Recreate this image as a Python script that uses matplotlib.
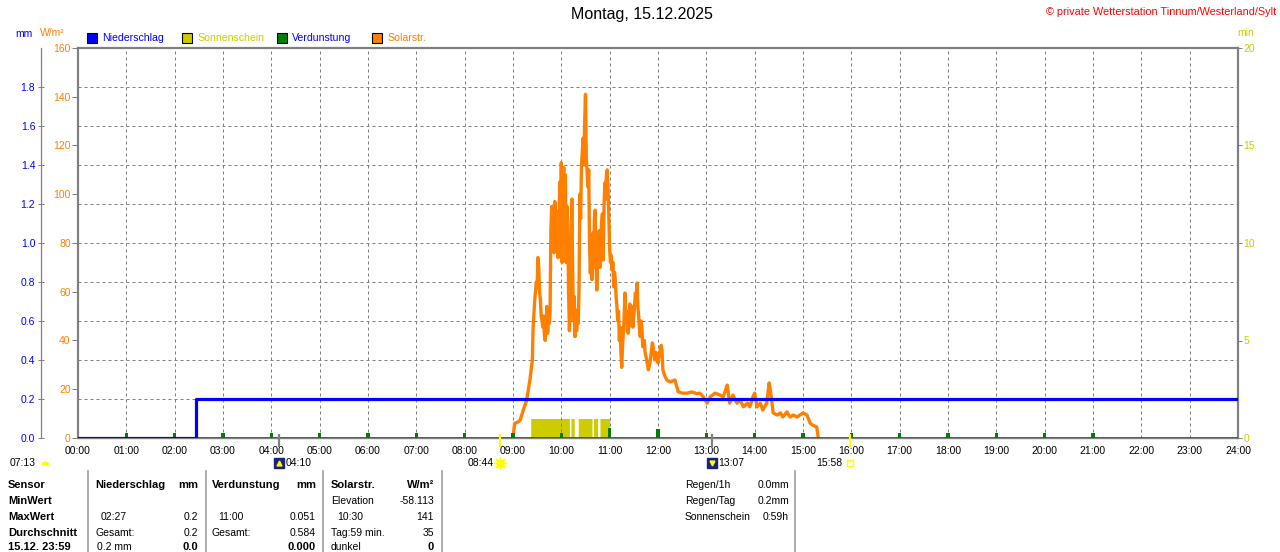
import numpy as np
import matplotlib
matplotlib.use('Agg')
import matplotlib.pyplot as plt
from matplotlib.patches import Rectangle

plt.rcParams['font.family'] = ['Liberation Sans', 'DejaVu Sans']

# --- data ---
# solar radiation (W/m2), minute of day
solar_minutes = [540, 542, 546, 549, 552, 557, 561, 564, 565, 567,
                 569, 570, 571, 572, 573, 574, 575, 576, 577, 578,
                 579, 580, 581, 582, 583, 584, 585, 586, 587, 588,
                 589, 590, 591, 592, 593, 594, 595, 596, 597, 598,
                 599, 600, 601, 602, 603, 604, 605, 606, 607, 608,
                 609, 610, 611, 612, 613, 614, 615, 616, 617, 618,
                 619, 620, 621, 622, 623, 624, 625, 626, 627, 628,
                 629, 630, 631, 632, 633, 634, 635, 636, 637, 638,
                 639, 640, 641, 642, 643, 644, 645, 646, 647, 648,
                 649, 650, 651, 652, 653, 654, 655, 656, 657, 658,
                 659, 660, 661, 662, 663, 664, 665, 666, 667, 668,
                 669, 670, 671, 672, 673, 674, 675, 676, 677, 678,
                 679, 680, 681, 682, 683, 684, 685, 686, 687, 688,
                 689, 690, 691, 692, 693, 694, 695, 696, 697, 698,
                 699, 700, 701, 703, 704, 706, 708, 710, 712, 713,
                 714, 716, 718, 719, 720, 722, 724, 725, 726, 729,
                 731, 735, 741, 745, 750, 756, 762, 768, 772, 776,
                 781, 785, 791, 797, 801, 806, 807, 809, 813, 818,
                 822, 826, 831, 834, 838, 840, 843, 847, 850, 855,
                 858, 860, 863, 868, 872, 875, 880, 884, 888, 893,
                 896, 900, 905, 909, 912, 917, 919]
solar_wm2 = [0, 6, 6.5, 7.4, 10.7, 15.6, 23.8, 32, 45.5, 56.6,
             64, 62, 74, 70, 60, 56.6, 50, 48, 45.5, 50,
             42, 40, 46, 54, 43, 50, 47, 51, 85, 95,
             82, 90, 76, 97, 89, 80, 93, 74, 88, 105,
             84, 113, 72, 100, 111, 80, 108, 72, 95, 87,
             60, 44, 55, 70, 98, 70, 48, 58, 41.6, 52.5,
             44, 50, 47, 62, 100, 90, 112, 117, 123, 112,
             130, 141, 115, 108.6, 103, 110, 80, 67.6, 75, 65,
             84, 70, 90, 93.5, 75, 60.7, 72, 78, 85, 70,
             80, 88, 92, 73, 95, 104.6, 98, 108, 110, 103,
             90, 77, 72, 75, 69, 72, 62, 68, 65, 58,
             54, 48, 52, 40, 45.5, 35, 29, 38, 43, 50,
             59.5, 48, 52, 44, 43, 49, 55, 46, 54, 51,
             45.5, 50, 55, 59.5, 56, 63.6, 54, 50, 45, 41.6,
             48, 45.5, 37.5, 40, 35, 32, 28, 30.8, 36, 39,
             37.5, 32, 35, 33, 30.8, 35, 38, 36, 28, 25,
             23.8, 23, 23.8, 19, 18.4, 18.4, 18.9, 18.2, 18.4, 17,
             14.3, 17, 18.4, 17.6, 17, 21.7, 19, 14.3, 17.6, 14.3,
             15.6, 12.8, 14.3, 12.8, 17, 18.4, 12.8, 14.3, 11.5, 14.3,
             22.6, 18.4, 10.3, 9.4, 10.3, 8.6, 10.7, 8.6, 9.4, 8.6,
             9.4, 10.3, 9.4, 6, 5.3, 4.5, 0]

# cumulative rain (mm)
rain_hours = [0, 2 + 27 / 60, 24]
rain_mm = [0.0, 0.2, 0.2]

# hourly evaporation (mm)
evap_hours = list(range(1, 22))
evap_mm = [0.024, 0.025, 0.025, 0.025, 0.026, 0.025, 0.025, 0.025, 0.026, 0.026,
           0.051, 0.048, 0.025, 0.026, 0.026, 0.026, 0.025, 0.026, 0.026, 0.026, 0.026]

# sunshine periods (minute of day, start/end)
sun_periods = [(562, 610), (612, 616), (621, 638), (640, 645), (648, 660)]

hour_labels = ['%02d:00' % h for h in range(25)]

sunrise, sunset = '08:44', '15:58'
moonrise, moonset = '04:10', '13:07'
day_length = '07:13'

table_rows = ['Sensor', 'MinWert', 'MaxWert', 'Durchschnitt', '15.12. 23:59']
nied_col = [('Niederschlag', 'mm'), ('', ''), ('02:27', '0.2'), ('Gesamt:', '0.2'), ('0.2 mm', '0.0')]
verd_col = [('Verdunstung', 'mm'), ('', ''), ('11:00', '0.051'), ('Gesamt:', '0.584'), ('', '0.000')]
sol_col = [('Solarstr.', 'W/m²'), ('Elevation', '-58.113'), ('10:30', '141'), ('Tag:59 min.', '35'), ('dunkel', '0')]
summary = [('Regen/1h', '0.0mm'), ('Regen/Tag', '0.2mm'), ('Sonnenschein', '0:59h')]

BLUE = '#0000ff'
ORANGE = '#ff8000'
YELLOW = '#cccc00'
GREEN = '#008000'
GREY = '#808080'

W, H = 1280, 552
fig = plt.figure(figsize=(12.8, 5.52), dpi=100)


def fx(x):
    return x / W


def fy(y):
    return 1 - y / H


def hm(s):
    h, m = s.split(':')
    return int(h) + int(m) / 60


rect = [fx(78), fy(438), (1238 - 78) / W, (438 - 48) / H]
axs = fig.add_axes(rect)   # sunshine, minutes
axw = axs.twinx()          # solar, W/m2
axm = axs.twinx()          # rain / evaporation, mm

# sunshine bars
t = np.arange(0, 1441)
sun = np.zeros(len(t))
for a, b in sun_periods:
    sun[a:b] = 1
axs.fill_between(t / 60, 0, sun, step='post', color=YELLOW, lw=0)
axs.set_xlim(0, 24)
axs.set_ylim(0, 20)
axs.set_xticks(range(25))
axs.set_xticklabels(hour_labels)
axs.tick_params(axis='x', length=0, pad=6, labelsize=7.5)
axs.yaxis.tick_right()
axs.set_yticks(range(0, 21, 5))
axs.set_yticks(range(0, 21, 2), minor=True)
axs.yaxis.remove_overlapping_locs = False
axs.tick_params(axis='y', which='major', colors=GREY, labelcolor=YELLOW,
                length=2.9, width=0.72, pad=1, labelsize=7.5)
axs.tick_params(axis='y', which='minor', length=0)
axs.grid(axis='x', which='major', color=GREY, lw=0.72, ls=(0, (3, 3)))
axs.grid(axis='y', which='minor', color=GREY, lw=0.72, ls=(0, (3, 3)))
for s in ['top', 'right']:
    axs.spines[s].set_color(GREY)
    axs.spines[s].set_linewidth(1.6)
axs.spines['bottom'].set_color(GREY)
axs.spines['bottom'].set_linewidth(1.0)
axs.spines['left'].set_visible(False)

# solar radiation
axw.plot(np.array(solar_minutes) / 60, solar_wm2, color=ORANGE, lw=2.4)
axw.set_ylim(0, 160)
axw.yaxis.tick_left()
axw.set_yticks(range(0, 161, 20))
axw.tick_params(axis='y', colors=GREY, labelcolor=ORANGE, length=4.3,
                width=0.72, pad=1, labelsize=7.5)
for s in ['top', 'right', 'bottom']:
    axw.spines[s].set_visible(False)
axw.spines['left'].set_color(GREY)
axw.spines['left'].set_linewidth(1.6)

# evaporation and rain
axm.axhline(0, color=GREEN, lw=2)
axm.bar(evap_hours, evap_mm, width=0.07, color=GREEN, lw=0)
axm.plot(rain_hours, rain_mm, drawstyle='steps-post', color=BLUE, lw=2.3)
axm.set_ylim(0, 2)
axm.yaxis.tick_left()
axm.set_yticks(np.arange(0, 1.81, 0.2))
axm.set_yticklabels(['%.1f' % v for v in np.arange(0, 1.81, 0.2)])
axm.tick_params(axis='y', colors=GREY, labelcolor=BLUE, direction='inout',
                length=4.3, width=0.72, pad=2, labelsize=7.5)
for s in ['top', 'right', 'bottom']:
    axm.spines[s].set_visible(False)
axm.spines['left'].set_position(('outward', 37 * 0.72))
axm.spines['left'].set_color(GREY)
axm.spines['left'].set_linewidth(0.9)

# sun / moon events below the axis
tr = axm.get_xaxis_transform()
y_icon = (438 - 463) / 390
for ev, col in [(sunrise, '#ffff00'), (sunset, '#ffff00'), (moonrise, GREY), (moonset, GREY)]:
    axm.plot([hm(ev), hm(ev)], [4 / 390, -9 / 390], transform=tr, color=col,
             lw=1.6, clip_on=False, solid_capstyle='butt')

axm.plot(hm(sunrise), y_icon, transform=tr, marker=(8, 2, 0), ms=9, color='#ffff00',
         mew=1, clip_on=False)
axm.plot(hm(sunrise), y_icon, transform=tr, marker='o', ms=5, color='#ffff00',
         mec='#ffff00', clip_on=False)
axm.annotate(sunrise, (hm(sunrise), y_icon), xycoords=tr, xytext=(-5, 0),
             textcoords='offset points', ha='right', va='center', fontsize=7.5)

axm.plot(hm(sunset), y_icon, transform=tr, marker='s', ms=4, mfc='white',
         mec='#ffff00', mew=1, clip_on=False)
axm.annotate(sunset, (hm(sunset), y_icon), xycoords=tr, xytext=(-5, 0),
             textcoords='offset points', ha='right', va='center', fontsize=7.5)

for ev, arrow in [(moonrise, '^'), (moonset, 'v')]:
    axm.plot(hm(ev), y_icon, transform=tr, marker='s', ms=7.2, color='#1a237e',
             clip_on=False)
    axm.plot(hm(ev), y_icon, transform=tr, marker=arrow, ms=3.5, color='#ffff00',
             clip_on=False)
    axm.annotate(ev, (hm(ev), y_icon), xycoords=tr, xytext=(4.3, 0),
                 textcoords='offset points', ha='left', va='center', fontsize=7.5)

fig.text(fx(10), fy(463), day_length, ha='left', va='center', fontsize=7.5)
fig.add_artist(plt.Line2D([fx(45)], [fy(465)], marker='o', ms=6, color='#ffff00',
                          fillstyle='top', markerfacecoloralt='none', mec='none'))

# header texts
fig.text(fx(642), fy(15), 'Montag, 15.12.2025', ha='center', va='center', fontsize=11.5)
fig.text(fx(1276), fy(12), '© private Wetterstation Tinnum/Westerland/Sylt',
         ha='right', va='center', fontsize=7.8, color='#ff0000')
fig.text(fx(15), fy(34), 'mm', ha='left', va='center', fontsize=7.5, color=BLUE)
fig.text(fx(40), fy(33), 'W/m²', ha='left', va='center', fontsize=7.5, color=ORANGE)
fig.text(fx(1237), fy(33), 'min', ha='left', va='center', fontsize=7.5, color=YELLOW)

legend_names = ['Niederschlag', 'Sonnenschein', 'Verdunstung', 'Solarstr.']
legend_fill = [BLUE, YELLOW, GREEN, ORANGE]
legend_text = [BLUE, YELLOW, BLUE, ORANGE]
for i, name in enumerate(legend_names):
    x0 = 87 + 95 * i
    fig.add_artist(Rectangle((fx(x0), fy(43)), 10 / W, 10 / H, transform=fig.transFigure,
                             facecolor=legend_fill[i], edgecolor='black', lw=0.8))
    fig.text(fx(x0 + 15), fy(38), name, ha='left', va='center', fontsize=7.6,
             color=legend_text[i])

# bottom table
row_y = [485, 501, 517, 533, 547]
for y, name in zip(row_y, table_rows):
    fig.text(fx(8), fy(y), name, ha='left', va='center', fontsize=8, fontweight='bold')

for col, xl, xr in [(nied_col, 95, 198), (verd_col, 212, 316), (sol_col, 331, 434)]:
    for i, (left, right) in enumerate(col):
        bold_l = 'bold' if i == 0 else 'normal'
        bold_r = 'bold' if i in (0, 4) else 'normal'
        indent = 6 if i == 2 else (2 if (i == 4 and left.endswith('mm')) else 0)
        fig.text(fx(xl + indent), fy(row_y[i]), left, ha='left', va='center',
                 fontsize=8 if i == 0 else 7.5, fontweight=bold_l)
        fig.text(fx(xr), fy(row_y[i]), right, ha='right', va='center',
                 fontsize=8 if i in (0, 4) else 7.5, fontweight=bold_r)

for i, (left, right) in enumerate(summary):
    fig.text(fx(685), fy(row_y[i]), left, ha='left', va='center', fontsize=7.5)
    fig.text(fx(789), fy(row_y[i]), right, ha='right', va='center', fontsize=7.5)

for xs in [88, 205.5, 323, 441.5, 795]:
    fig.add_artist(plt.Line2D([fx(xs), fx(xs)], [fy(471), fy(552)], color='#a0a0a0', lw=1.2))

fig.savefig('out.png', dpi=100)
